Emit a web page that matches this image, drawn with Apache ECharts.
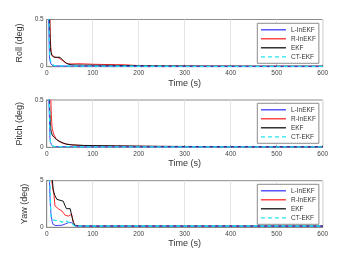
<!DOCTYPE html>
<html><head><meta charset="utf-8">
<script src="https://cdn.jsdelivr.net/npm/echarts@6/dist/echarts.min.js"></script>
<style>html,body{margin:0;padding:0;background:#fff}#c{width:357px;height:268px}</style>
</head><body><div id="c"></div>
<script>
var time = [0, 3, 6, 7, 8, 9, 10, 11, 12, 14, 16, 18, 20, 22, 25, 29, 33, 36, 40, 43, 47, 51, 54, 56, 58, 60, 62, 65, 70, 80, 100, 120, 150, 170, 200, 250, 300, 350, 400, 450, 500, 550, 600];
var seriesNames = ['L-InEKF', 'R-InEKF', 'EKF', 'CT-EKF'];
var xTicks = [0, 100, 200, 300, 400, 500, 600];

var rollL  = [1.2, 0.8, 0.1, 0.064, 0.045, 0.03, 0.025, 0.02, 0.015, 0.01, 0.01, 0.009, 0.009, 0.008, 0.008, 0.008, 0.008, 0.008, 0.007, 0.007, 0.007, 0.007, 0.007, 0.007, 0.007, 0.007, 0.006, 0.006, 0.006, 0.006, 0.006, 0.006, 0.005, 0.005, 0.005, 0.005, 0.004, 0.004, 0.004, 0.004, 0.004, 0.004, 0.004];
var rollR  = [1.3, 1.1, 0.8, 0.5, 0.3, 0.2, 0.15, 0.13, 0.12, 0.11, 0.105, 0.1, 0.1, 0.1, 0.095, 0.085, 0.07, 0.06, 0.045, 0.035, 0.03, 0.03, 0.03, 0.03, 0.03, 0.03, 0.03, 0.032, 0.032, 0.03, 0.026, 0.024, 0.022, 0.02, 0.012, 0.009, 0.007, 0.006, 0.006, 0.005, 0.005, 0.005, 0.005];
var rollE  = [1.3, 1.0, 0.6, 0.35, 0.2, 0.16, 0.14, 0.12, 0.11, 0.105, 0.1, 0.1, 0.1, 0.1, 0.1, 0.1, 0.08, 0.064, 0.045, 0.035, 0.028, 0.022, 0.02, 0.02, 0.019, 0.019, 0.018, 0.018, 0.018, 0.017, 0.016, 0.015, 0.014, 0.013, 0.01, 0.008, 0.007, 0.006, 0.006, 0.005, 0.005, 0.005, 0.005];
var rollC  = [1.2, 0.9, 0.2, 0.1, 0.07, 0.05, 0.04, 0.035, 0.03, 0.02, 0.015, 0.012, 0.01, 0.009, 0.009, 0.008, 0.008, 0.008, 0.008, 0.008, 0.007, 0.007, 0.007, 0.007, 0.007, 0.007, 0.007, 0.006, 0.006, 0.006, 0.006, 0.006, 0.005, 0.005, 0.005, 0.005, 0.004, 0.004, 0.004, 0.004, 0.004, 0.004, 0.004];

var pitchL = [1.2, 0.8, 0.3, 0.1, 0.06, 0.04, 0.03, 0.025, 0.015, 0.008, 0.008, 0.007, 0.007, 0.007, 0.007, 0.007, 0.007, 0.007, 0.007, 0.006, 0.006, 0.006, 0.006, 0.006, 0.006, 0.006, 0.006, 0.006, 0.006, 0.005, 0.005, 0.005, 0.005, 0.005, 0.004, 0.004, 0.004, 0.004, 0.004, 0.004, 0.004, 0.004, 0.004];
var pitchR = [1.4, 1.3, 1.1, 0.9, 0.7, 0.5, 0.35, 0.26, 0.2, 0.16, 0.13, 0.11, 0.095, 0.085, 0.067, 0.055, 0.047, 0.042, 0.036, 0.033, 0.031, 0.029, 0.027, 0.026, 0.025, 0.024, 0.023, 0.022, 0.021, 0.019, 0.017, 0.015, 0.014, 0.013, 0.011, 0.009, 0.008, 0.007, 0.006, 0.006, 0.005, 0.005, 0.005];
var pitchE = [1.3, 1.0, 0.5, 0.35, 0.25, 0.19, 0.16, 0.14, 0.13, 0.12, 0.105, 0.095, 0.088, 0.08, 0.07, 0.06, 0.05, 0.045, 0.038, 0.033, 0.03, 0.028, 0.026, 0.025, 0.025, 0.024, 0.024, 0.023, 0.022, 0.02, 0.018, 0.017, 0.015, 0.014, 0.012, 0.01, 0.009, 0.008, 0.007, 0.006, 0.006, 0.006, 0.006];
var pitchC = [1.2, 0.9, 0.4, 0.15, 0.06, 0.045, 0.035, 0.03, 0.02, 0.012, 0.01, 0.009, 0.008, 0.008, 0.008, 0.007, 0.007, 0.007, 0.007, 0.007, 0.007, 0.006, 0.006, 0.006, 0.006, 0.006, 0.006, 0.006, 0.006, 0.005, 0.005, 0.005, 0.005, 0.005, 0.004, 0.004, 0.004, 0.004, 0.004, 0.004, 0.004, 0.004, 0.004];

var yawL   = [9, 7, 5.2, 3.5, 2.4, 1.6, 1.1, 0.85, 0.6, 0.3, 0.25, 0.2, 0.18, 0.15, 0.2, 0.3, 0.22, 0.15, 0.35, 0.5, 0.5, 0.55, 0.5, 0.4, 0.3, 0.2, 0.15, 0.12, 0.12, 0.12, 0.12, 0.12, 0.12, 0.12, 0.12, 0.12, 0.12, 0.12, 0.12, 0.12, 0.12, 0.12, 0.12];
var yawR   = [9, 8, 7.5, 7, 6.5, 6, 5.5, 5, 4.6, 4.0, 3.4, 2.3, 2.2, 2.1, 2.0, 1.9, 1.75, 1.6, 1.3, 1.25, 1.2, 1.3, 1.4, 1.0, 0.5, 0.3, 0.2, 0.16, 0.15, 0.14, 0.14, 0.14, 0.14, 0.14, 0.14, 0.14, 0.14, 0.14, 0.14, 0.14, 0.14, 0.14, 0.14];
var yawE   = [9, 8, 7, 6.8, 6.5, 6.2, 5.9, 5.6, 5.3, 4.1, 3.7, 3.4, 3.2, 3.0, 2.9, 2.9, 2.85, 2.8, 2.3, 2.0, 2.0, 2.0, 1.95, 0.9, 0.5, 0.3, 0.2, 0.15, 0.14, 0.13, 0.13, 0.13, 0.13, 0.13, 0.13, 0.13, 0.13, 0.13, 0.13, 0.13, 0.13, 0.13, 0.13];
var yawC   = [9, 7.5, 6, 4.5, 2.8, 1.5, 1.1, 0.9, 0.85, 0.8, 0.75, 0.7, 0.72, 0.75, 0.75, 0.65, 0.55, 0.6, 0.7, 0.6, 0.55, 0.52, 0.5, 0.45, 0.3, 0.15, 0.14, 0.14, 0.14, 0.14, 0.14, 0.14, 0.14, 0.14, 0.14, 0.14, 0.14, 0.14, 0.14, 0.14, 0.14, 0.14, 0.14];

var panels = [
  {name: 'Roll (deg)', max: 0.5, data: [rollL, rollR, rollE, rollC]},
  {name: 'Pitch (deg)', max: 0.5, data: [pitchL, pitchR, pitchE, pitchC]},
  {name: 'Yaw (deg)', max: 5, data: [yawL, yawR, yawE, yawC]}
];
var colors = ['#3c3cff', '#ff2a2a', '#111111', '#22e6ee'];
var font = 'Liberation Sans';
var gridTops = [19.5, 100, 180.7];
var gridH = [47.2, 47.3, 46.6];
var legendTops = [23.3, 103.3, 184.3];

function pairs(v){ return time.map(function(t,i){ return [t, v[i]]; }); }

var grids = [], xAxes = [], yAxes = [], series = [], legends = [];
panels.forEach(function(p, k){
  grids.push({left: 46.7, top: gridTops[k], width: 276, height: gridH[k], show: true, borderColor: '#8c8c8c', borderWidth: 1, backgroundColor: '#fff'});
  xAxes.push({type: 'value', gridIndex: k, min: 0, max: 600, interval: 100,
    name: 'Time (s)', nameLocation: 'middle', nameGap: 12,
    nameTextStyle: {fontFamily: font, fontSize: 9, color: '#333'},
    axisLine: {show: true, lineStyle: {color: '#8c8c8c'}},
    axisTick: {show: true, inside: true, length: 2, lineStyle: {color: '#8c8c8c'}},
    axisLabel: {fontFamily: font, fontSize: 6.5, color: '#444', margin: 3},
    splitLine: {show: true, lineStyle: {color: '#e3e3e3', width: 1}}});
  yAxes.push({type: 'value', gridIndex: k, min: 0, max: p.max, interval: p.max,
    name: p.name, nameLocation: 'middle', nameGap: 13,
    nameTextStyle: {fontFamily: font, fontSize: 9, color: '#333'},
    axisLine: {show: true, lineStyle: {color: '#8c8c8c'}},
    axisTick: {show: true, inside: true, length: 2, lineStyle: {color: '#8c8c8c'}},
    axisLabel: {fontFamily: font, fontSize: 6.5, color: '#444', margin: 3},
    splitLine: {show: false}});
  p.data.forEach(function(v, j){
    series.push({name: seriesNames[j], type: 'line', xAxisIndex: k, yAxisIndex: k,
      data: pairs(v), symbol: 'none', clip: true, animation: false,
      z: j === 3 ? 5 : (j === 0 ? 4 : 2 + j * 0.1),
      lineStyle: {color: colors[j], width: j === 3 ? 1.3 : 1, type: j === 3 ? [4, 3] : 'solid'},
      itemStyle: {color: colors[j]}});
  });
  legends.push({orient: 'vertical', left: 257.3, top: legendTops[k], data: seriesNames,
    backgroundColor: '#fff', borderColor: '#8c8c8c', borderWidth: 1,
    padding: [3, 3, 3, 3], itemWidth: 25, itemHeight: 6, itemGap: 2, itemTextGap: 3,
    selectedMode: false,
    itemStyle: {opacity: 0, borderWidth: 0},
    lineStyle: {width: 1.3},
    textStyle: {fontFamily: font, fontSize: 6.5, color: '#333', lineHeight: 6}});
});

var chart = echarts.init(document.getElementById('c'), null, {renderer: 'canvas'});
chart.setOption({animation: false, backgroundColor: '#fff', grid: grids, xAxis: xAxes, yAxis: yAxes, legend: legends, series: series});
</script></body></html>
